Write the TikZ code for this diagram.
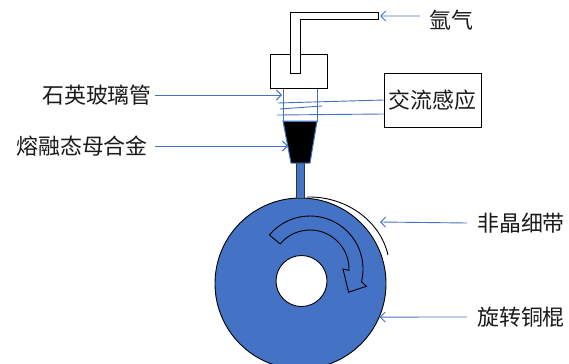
\documentclass[tikz,border=0pt]{standalone}
\usepackage{fontspec}
\setmainfont{Noto Sans CJK SC}
\usetikzlibrary{arrows.meta}
\definecolor{wblue}{HTML}{4472C4}
\definecolor{ink}{HTML}{1A1A1A}
\tikzset{
  lbl/.style={inner sep=1bp, text=ink, font=\fontsize{22}{24}\selectfont},
  ptr/.style={draw=wblue, line width=0.9bp, -{Straight Barb[length=5bp, width=10bp]}},
  wire/.style={draw=wblue, line width=0.9bp},
  part/.style={draw, line width=0.9bp, fill=white}}

\begin{document}
\begin{tikzpicture}[x=1bp, y=1bp]
\useasboundingbox (0,0) rectangle (569,363);
% copper wheel with its hole and the turning arrow
\node[circle, draw, fill=wblue, line width=0.9bp, minimum size=171bp, inner sep=0pt] (wheel) at (300.5,79.5) {};
\node[circle, draw, fill=white, line width=0.9bp, minimum size=51bp, inner sep=0pt] (hole) at (301.5,82) {};
\begin{scope}[shift={(310,94)}]
\draw[fill=wblue, line width=0.9bp] (140:53) arc[start angle=140, end angle=-14, radius=53]
  -- (-17:59) -- (-31:45) -- (0:33) -- (-2:39)
  arc[start angle=-2, end angle=140, radius=39] -- cycle;
\end{scope}
% melt stream and the ribbon leaving the wheel
\draw[fill=wblue, draw=black!80, line width=0.6bp] (296,200) rectangle (304,165);
\draw[line width=0.9bp] (307,166) .. controls (345,167) and (380,143) .. (388,108);
% crucible, quartz tube and induction coil
\draw[fill=black, draw=wblue, line width=1bp] (283,242) -- (317,242) -- (310,200) -- (291,200) -- cycle;
\draw[wire] (283,275) rectangle (317,242);
\node[lbl, draw, line width=0.9bp, minimum width=97bp, minimum height=54bp] (coil) at (432.5,263) {交流感应};
\draw[wire] (278,260) -- (coil.west);
\draw[wire] (280,254) -- (322,257);
\draw[wire] (277,248) -- ([yshift=-14bp]coil.west);
% holder and gas inlet pipe
\draw[part] (270,309) rectangle (327,275);
\draw[part] (290,351) -- (378,351) -- (378,344) -- (300,344) -- (300,290) -- (290,290) -- cycle;
% labels
\coordinate (inlet) at (380,347);
\coordinate (qtip) at (282,268);
\coordinate (mtip) at (288,217);
\coordinate (rtip) at (380,141);
\node[lbl, anchor=west] (argon) at (428,343) {氩气};
\node[lbl, anchor=east] (quartz) at (153,268) {石英玻璃管};
\node[lbl, anchor=east] (melt) at (149,217) {熔融态母合金};
\node[lbl, anchor=west] (ribbon) at (476,140) {非晶细带};
\node[lbl, anchor=west] (roller) at (476,46) {旋转铜棍};
\draw[ptr] ([shift={(-8bp,4bp)}]argon.west) -- (inlet);
\draw[ptr] ([xshift=2bp]quartz.east) -- (qtip);
\draw[ptr] ([xshift=6bp]melt.east) -- (mtip);
\draw[ptr] ([xshift=-9bp]ribbon.west) -- (rtip);
\draw[ptr] ([xshift=-9bp]roller.west) -- (wheel.-23);
\end{tikzpicture}
\end{document}
